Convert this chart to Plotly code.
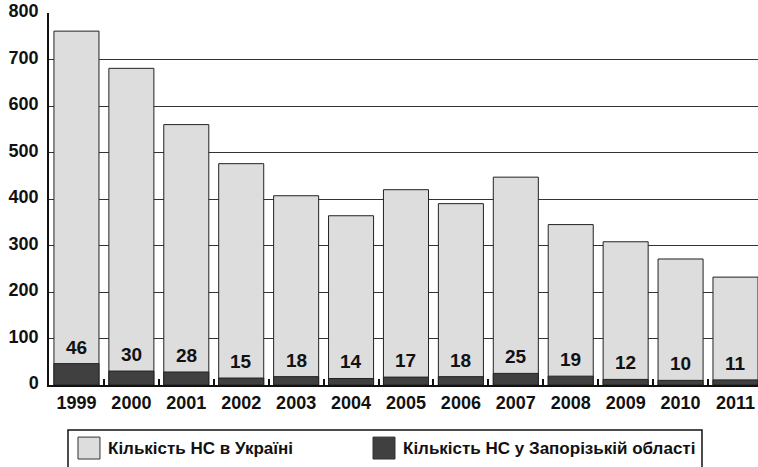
import plotly.graph_objects as go

years = ["1999", "2000", "2001", "2002", "2003", "2004", "2005", "2006", "2007", "2008", "2009", "2010", "2011"]
ukraine = [761, 681, 560, 476, 407, 364, 420, 390, 447, 345, 308, 271, 232]
zaporizhzhia = [46, 30, 28, 15, 18, 14, 17, 18, 25, 19, 12, 10, 11]
y_ticks = [0, 100, 200, 300, 400, 500, 600, 700, 800]
name_ua = "Кількість НС в Україні"
name_zp = "Кількість НС у Запорізькій області"

FONT = "Liberation Sans, Arial, sans-serif"
LIGHT = "#dddddd"
DARK = "#404040"
TXT = "#111111"

fig = go.Figure()
fig.add_trace(go.Bar(x=years, y=ukraine, name=name_ua, width=0.82,
                     marker=dict(color=LIGHT, line=dict(color="#222222", width=1))))
fig.add_trace(go.Bar(x=years, y=zaporizhzhia, name=name_zp, width=0.82,
                     marker=dict(color=DARK, line=dict(color="#222222", width=1))))

for i, v in enumerate(zaporizhzhia):
    fig.add_annotation(x=i, y=v, text="<b>%d</b>" % v, showarrow=False, xref="x", yref="y",
                       yanchor="bottom", yshift=4,
                       font=dict(family=FONT, size=19, color=TXT))

# manual legend (box + swatches + labels); plot area is 709 px wide starting at x=49
fig.add_shape(type="rect", xref="paper", yref="paper", x0=0.0268, x1=0.921, y0=-0.26, y1=-0.121,
              line=dict(color=TXT, width=1.5), fillcolor="white")
legend_items = [(name_ua, LIGHT, 0.0409), (name_zp, DARK, 0.457)]
for label, color, x0 in legend_items:
    fig.add_shape(type="rect", xref="paper", yref="paper", x0=x0, x1=x0 + 0.031, y0=-0.199, y1=-0.140,
                  line=dict(color="#333333", width=1), fillcolor=color)
    fig.add_annotation(x=x0 + 0.0395, y=-0.170, xref="paper", yref="paper", text="<b>%s</b>" % label,
                       showarrow=False, xanchor="left", yanchor="middle",
                       font=dict(family=FONT, size=17, color=TXT))

fig.update_layout(
    width=758, height=467,
    margin=dict(l=49, r=0, t=13, b=82, autoexpand=False),
    barmode="overlay",
    showlegend=False,
    plot_bgcolor="white", paper_bgcolor="white",
    font=dict(family=FONT, size=18, color=TXT),
    xaxis=dict(
        type="category", range=[-0.5, 12.41], automargin=False,
        tickvals=years, ticktext=["<b>%s</b>" % y for y in years],
        showline=True, linecolor=TXT, linewidth=2,
        ticks="inside", tickson="boundaries", ticklen=6, tickcolor=TXT, tickwidth=2,
        ticklabelstandoff=0, showgrid=False, ticklabeloverflow="allow",
        tickfont=dict(family=FONT, size=18, color=TXT),
    ),
    yaxis=dict(
        range=[0, 800], tickvals=y_ticks, ticktext=["<b>%d</b>" % t for t in y_ticks],
        automargin=False, ticklabeloverflow="allow", ticklabelshift=-2,
        showline=True, linecolor=TXT, linewidth=1.5,
        showgrid=True, gridcolor="#333333", gridwidth=1,
        ticks="", ticklabelstandoff=5, zeroline=False,
        tickfont=dict(family=FONT, size=18, color=TXT),
    ),
)

fig.write_html("out.html", config={"displayModeBar": False},
               post_script="document.body.style.margin='0';document.body.style.overflow='hidden';")
